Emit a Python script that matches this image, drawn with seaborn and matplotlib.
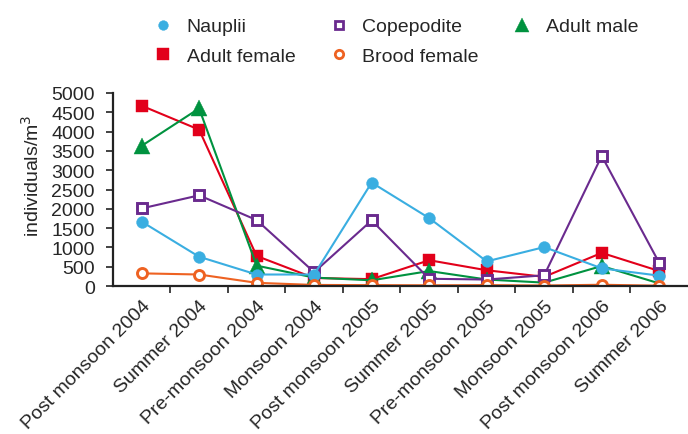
import matplotlib
matplotlib.use("Agg")
import matplotlib.pyplot as plt
from matplotlib.lines import Line2D
from matplotlib.ticker import FixedLocator
import seaborn as sns
import pandas as pd

seasons = ["Post monsoon 2004", "Summer 2004", "Pre-monsoon 2004", "Monsoon 2004",
           "Post monsoon 2005", "Summer 2005", "Pre-monsoon 2005", "Monsoon 2005",
           "Post monsoon 2006", "Summer 2006"]
nauplii = [1670, 760, 300, 300, 2680, 1760, 640, 1010, 460, 270]
copepodite = [2010, 2350, 1710, 360, 1700, 190, 170, 280, 3370, 600]
adult_male = [3630, 4600, 530, 220, 150, 390, 170, 90, 520, 70]
adult_female = [4670, 4050, 780, 210, 180, 670, 410, 240, 860, 390]
brood_female = [330, 300, 85, 30, 25, 20, 25, 15, 35, 10]

# name: (values, marker, edge colour, face colour, marker size)
series = {
    "Adult female": (adult_female, "s", "#E2001A", "#E2001A", 8.5),
    "Adult male": (adult_male, "^", "#00923F", "#00923F", 11),
    "Copepodite": (copepodite, "s", "#6A2A8E", "white", 7.2),
    "Nauplii": (nauplii, "o", "#3AAEE1", "#3AAEE1", 8.5),
    "Brood female": (brood_female, "o", "#EE6222", "white", 7.2),
}

sns.set_style("white")
plt.rcParams["font.family"] = ["Liberation Sans", "DejaVu Sans"]

fig = plt.figure(figsize=(6.88, 4.35), dpi=100)
ax = fig.add_axes([0.164, 0.340, 0.836, 0.444])

x = list(range(len(seasons)))
for name, (vals, mk, col, face, ms) in series.items():
    df = pd.DataFrame({"x": x, "y": vals})
    hollow = face == "white"
    sns.lineplot(data=df, x="x", y="y", ax=ax, color=col, lw=1.5,
                 marker=mk, markersize=ms,
                 markerfacecolor=face, markeredgecolor=col,
                 markeredgewidth=2.1 if hollow else 0.3)

ax.set_xlim(-0.5, 9.5)
ax.set_ylim(0, 5000)
ax.set_yticks(range(0, 5001, 500))
ax.set_xticks(x)
ax.set_xticklabels(seasons, rotation=45, ha="right", rotation_mode="anchor", fontsize=14)
ax.xaxis.set_minor_locator(FixedLocator([i + 0.5 for i in range(9)]))
ax.tick_params(axis="x", which="major", length=0, pad=8)
ax.tick_params(axis="x", which="minor", length=5, width=1.2, color="#222222",
               direction="out", bottom=True)
ax.tick_params(axis="y", length=5, width=1.2, color="#222222", direction="out",
               left=True, labelsize=14, pad=8)
ax.set_xlabel("")
ax.set_ylabel("individuals/m$^3$", fontsize=14)
ax.yaxis.set_label_coords(-0.121, 0.575)

for s in ["top", "right"]:
    ax.spines[s].set_visible(False)
for s in ["left", "bottom"]:
    ax.spines[s].set_color("#222222")
    ax.spines[s].set_linewidth(1.6)

# legend laid out column by column so rows read across
order = ["Nauplii", "Adult female", "Copepodite", "Brood female", "Adult male"]
leg_sizes = {"Nauplii": 7, "Adult female": 8.5, "Copepodite": 6,
             "Brood female": 6, "Adult male": 10}
handles = []
for name in order:
    vals, mk, col, face, ms = series[name]
    hollow = face == "white"
    handles.append(Line2D([], [], ls="none", marker=mk, markersize=leg_sizes[name],
                          markerfacecolor=face, markeredgecolor=col,
                          markeredgewidth=2.0 if hollow else 0.3))
fig.legend(handles, order, ncol=3, frameon=False, fontsize=14,
           loc="upper left", bbox_to_anchor=(144 / 688, 1 - 9 / 435),
           borderpad=0, handlelength=1.0, handletextpad=0.69,
           columnspacing=1.75, labelspacing=0.62)

fig.savefig("out.png", dpi=100)
